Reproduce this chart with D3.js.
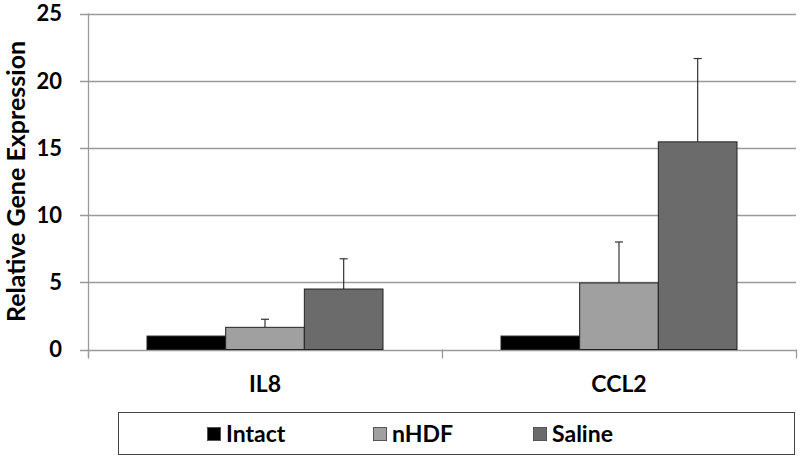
<!DOCTYPE html>
<html><head><meta charset="utf-8">
<script src="https://cdn.jsdelivr.net/npm/d3@7"></script>
<style>body{margin:0;background:#fff}svg{display:block}text{font-family:Lato,"Open Sans",sans-serif;font-weight:bold;fill:#000}</style>
</head><body>
<svg id="c" width="800" height="460"></svg>
<script>
const categories = ["IL8", "CCL2"];
const seriesNames = ["Intact", "nHDF", "Saline"];
const seriesColors = ["#000000", "#a0a0a0", "#6b6b6b"];
const intactValues = [1.0, 1.0];
const nhdfValues = [1.65, 4.95];
const salineValues = [4.5, 15.45];
const intactErrors = [0, 0];
const nhdfErrors = [0.6, 3.05];
const salineErrors = [2.25, 6.2];
const yTicks = [0, 5, 10, 15, 20, 25];
const yTitle = "Relative Gene Expression";

const values = [intactValues, nhdfValues, salineValues];
const errors = [intactErrors, nhdfErrors, salineErrors];
const svg = d3.select("#c");
const L = 88, R = 796, T = 13.5, B = 349.5;
const x0 = d3.scaleBand().domain(categories).range([L, R]).padding(0);
const y = d3.scaleLinear().domain([0, 25]).range([B, T]);

// gridlines
svg.append("g").selectAll("line").data(yTicks).join("line")
  .attr("x1", L - 8).attr("x2", R).attr("y1", d => Math.round(y(d)) + 0.5).attr("y2", d => Math.round(y(d)) + 0.5)
  .attr("stroke", "#9a9a9a").attr("stroke-width", 1.3);
// y axis line
svg.append("line").attr("x1", L + 0.5).attr("x2", L + 0.5).attr("y1", y(25)).attr("y2", B + 8)
  .attr("stroke", "#9a9a9a").attr("stroke-width", 1.3);
// category separator ticks
const sep = [L, L + x0.bandwidth(), R];
svg.append("g").selectAll("line").data(sep).join("line")
  .attr("x1", d => Math.round(d) + 0.5).attr("x2", d => Math.round(d) + 0.5).attr("y1", B).attr("y2", B + 9)
  .attr("stroke", "#9a9a9a").attr("stroke-width", 1.3);

// y tick labels
svg.append("g").selectAll("text").data(yTicks).join("text")
  .attr("x", 62).attr("y", d => y(d)).attr("dy", "0.36em").attr("text-anchor", "end")
  .attr("font-size", 22).text(d => d);

// y title
svg.append("text").attr("transform", `translate(25,${(T + B) / 2}) rotate(-90)`)
  .attr("text-anchor", "middle").attr("font-size", 25).text(yTitle);

// bars
const inner = d3.scaleBand().domain(seriesNames).range([59, x0.bandwidth() - 59]).padding(0);
categories.forEach((c, ci) => {
  const g = svg.append("g").attr("transform", `translate(${x0(c)},0)`);
  seriesNames.forEach((s, si) => {
    const v = values[si][ci], e = errors[si][ci];
    const bx = inner(s), bw = inner.bandwidth();
    if (e > 0) {
      const cx = bx + bw / 2;
      g.append("line").attr("x1", cx).attr("x2", cx).attr("y1", y(v)).attr("y2", y(v + e))
        .attr("stroke", "#333").attr("stroke-width", 1.2);
      g.append("line").attr("x1", cx - 4).attr("x2", cx + 4).attr("y1", y(v + e)).attr("y2", y(v + e))
        .attr("stroke", "#333").attr("stroke-width", 1.2);
    }
    g.append("rect").attr("x", bx).attr("y", y(v)).attr("width", bw).attr("height", y(0) - y(v))
      .attr("fill", seriesColors[si]).attr("stroke", "#222").attr("stroke-width", 1);
  });
  svg.append("text").attr("x", x0(c) + x0.bandwidth() / 2).attr("y", 392)
    .attr("text-anchor", "middle").attr("font-size", 23).text(c);
});

// legend
svg.append("rect").attr("x", 118.5).attr("y", 412.5).attr("width", 676).attr("height", 42)
  .attr("fill", "#fff").attr("stroke", "#444").attr("stroke-width", 1);
const legendX = [207, 373, 533];
seriesNames.forEach((s, i) => {
  svg.append("rect").attr("x", legendX[i] + 0.5).attr("y", 427.5).attr("width", 13).attr("height", 13)
    .attr("fill", seriesColors[i]).attr("stroke", "#555").attr("stroke-width", 1);
  svg.append("text").attr("x", legendX[i] + 19).attr("y", 442).attr("font-size", 23).text(s);
});
</script>
</body></html>
